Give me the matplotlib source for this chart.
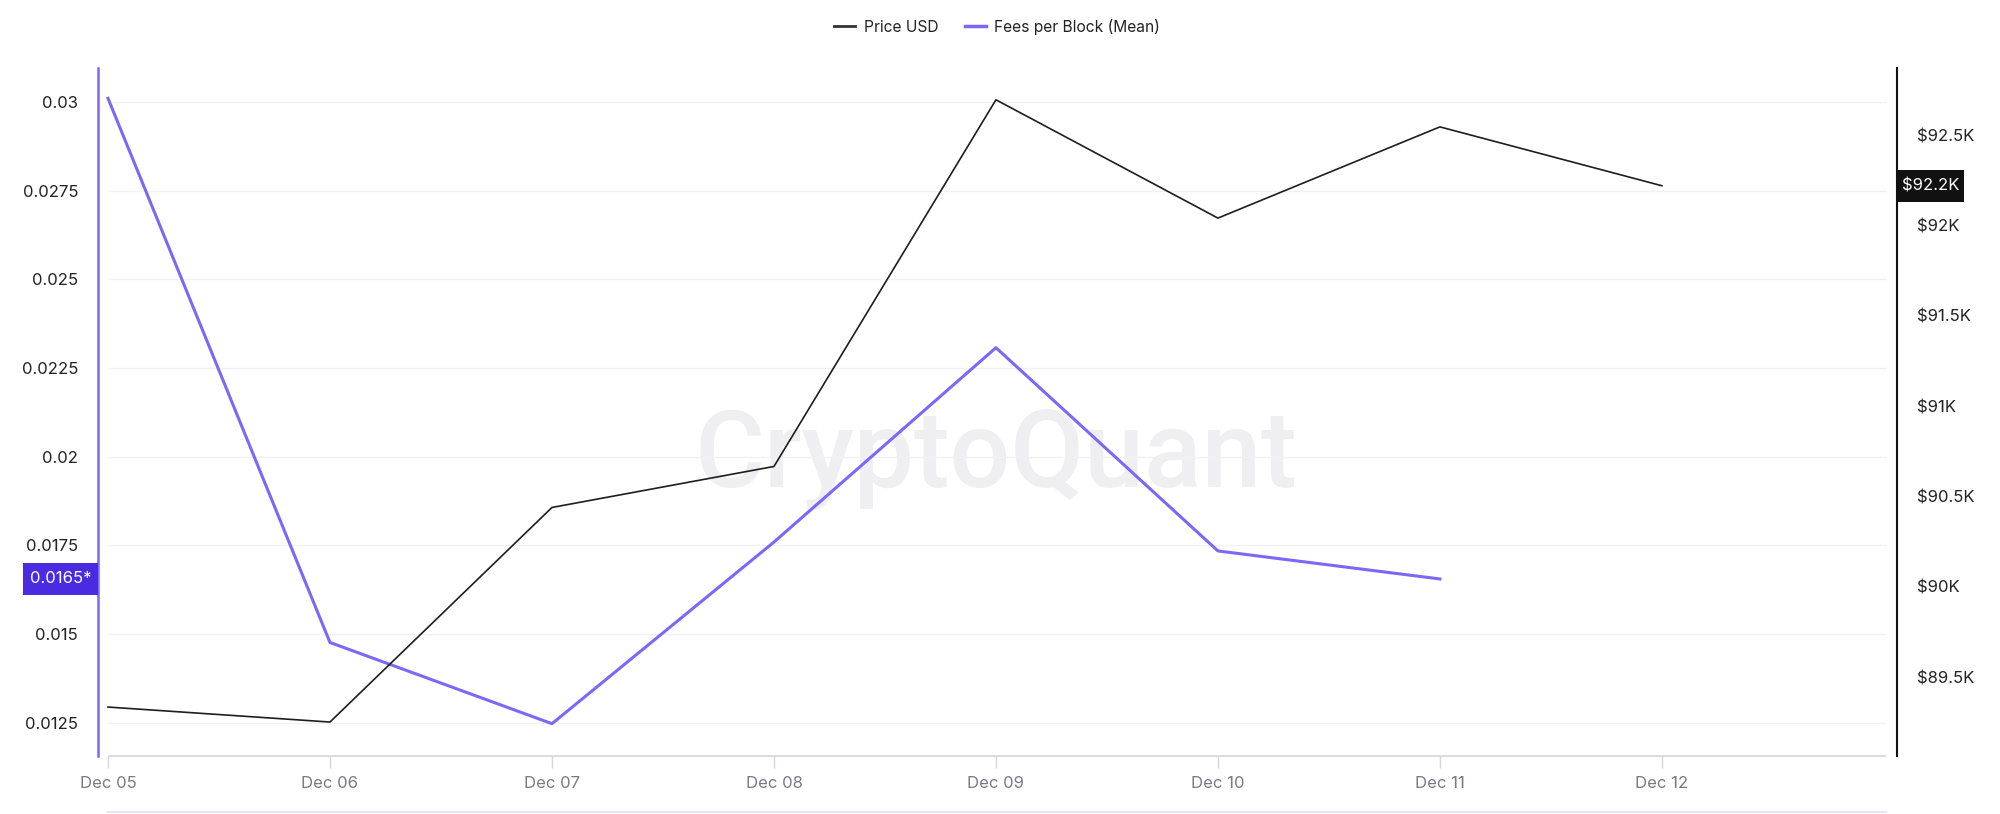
import matplotlib
matplotlib.use('Agg')
import matplotlib.pyplot as plt
from matplotlib.lines import Line2D
from matplotlib.patches import Rectangle
import numpy as np

plt.rcParams['font.family'] = ['Inter', 'DejaVu Sans']

#Chart data.
dates = ['Dec 05', 'Dec 06', 'Dec 07', 'Dec 08', 'Dec 09', 'Dec 10', 'Dec 11', 'Dec 12']
priceUsd = [89334, 89251, 90439, 90666, 92696, 92041, 92546, 92220]
feesPerBlock = [0.0301, 0.01476, 0.01247, 0.01759, 0.02307, 0.01734, 0.01655]
feeTicks = [0.0125, 0.015, 0.0175, 0.02, 0.0225, 0.025, 0.0275, 0.03]
feeTickLabels = ['0.0125', '0.015', '0.0175', '0.02', '0.0225', '0.025', '0.0275', '0.03']
priceTicks = [89500, 90000, 90500, 91000, 91500, 92000, 92500]
priceTickLabels = ['$89.5K', '$90K', '$90.5K', '$91K', '$91.5K', '$92K', '$92.5K']
feeLabel = '0.0165*'
priceLabel = '$92.2K'

purple = '#7B68F6'
boxPurple = '#4B2BE2'
gridCol = '#F1F1F4'
textCol = '#222222'

fig = plt.figure(figsize = (20, 8.14), dpi = 100)

#Price axis (right) drawn over the fees axis (left).
ax = fig.add_axes([0.049, 0.07125, 0.8995, 0.845])
ax2 = ax.twinx()
ax.set_zorder(ax2.get_zorder() + 1)
ax.patch.set_visible(False)

x = np.arange(len(dates))
xf = np.arange(len(feesPerBlock))

ax.set_xlim(-0.045, 8.059)
ax.set_ylim(89063, 92871)
ax2.set_ylim(0.011559, 0.03095)

#Watermark.
ax2.text(0.499, 0.391, 'CryptoQuant', transform = ax2.transAxes, ha = 'center', va = 'baseline',
         fontsize = 77, color = '#EFEFF2', fontweight = 'medium', family = 'Roboto', zorder = 0)

#Gridlines from the left ticks.
ax2.hlines(feeTicks, 0, 8.01, color = gridCol, linewidth = 1.0, zorder = 1)
ax2.hlines(ax2.get_ylim()[0], 0, 8.01, color = '#DCDCE6', linewidth = 1.5, zorder = 1, clip_on = False)

ax2.plot(xf, feesPerBlock, color = purple, linewidth = 2.2, zorder = 3)
ax.plot(x, priceUsd, color = '#1E1E1E', linewidth = 1.2, zorder = 3)

#Spines.
for a in (ax, ax2):
  a.spines['top'].set_visible(False)
  a.spines['bottom'].set_visible(False)
ax.spines['left'].set_visible(False)
ax2.spines['left'].set_visible(True)
ax2.spines['left'].set_color(purple)
ax2.spines['left'].set_linewidth(1.8)
ax2.spines['right'].set_visible(False)
ax.spines['right'].set_color('#111111')
ax.spines['right'].set_linewidth(1.5)

#Ticks.
ax2.yaxis.tick_left()
ax.yaxis.tick_right()
ax2.set_yticks(feeTicks)
ax2.set_yticklabels(feeTickLabels)
ax.set_yticks(priceTicks)
ax.set_yticklabels(priceTickLabels)
ax2.tick_params(axis = 'y', length = 0, pad = 14.4, labelsize = 12, labelcolor = textCol)
ax.tick_params(axis = 'y', length = 0, pad = 14.4, labelsize = 12, labelcolor = textCol)
ax.set_xticks(x)
ax.set_xticklabels(dates)
ax.tick_params(axis = 'x', length = 8.6, width = 1.0, color = '#D6D6E0', pad = 6,
               labelsize = 12, labelcolor = '#7A7A86')
ax2.tick_params(axis = 'x', length = 0)

#Last value boxes.
fy = ax2.get_yaxis_transform()
boxH = 32 * (ax2.get_ylim()[1] - ax2.get_ylim()[0]) / 688.0
ax2.add_patch(Rectangle((-75 / 1799.0, feesPerBlock[-1] - boxH / 2), 75 / 1799.0, boxH,
                        transform = fy, facecolor = boxPurple, edgecolor = 'none', clip_on = False, zorder = 5))
ax2.text(-37.5 / 1799.0, feesPerBlock[-1], feeLabel, transform = fy, ha = 'center', va = 'center',
         color = 'white', fontsize = 12, zorder = 6, clip_on = False)

py = ax.get_yaxis_transform()
boxH2 = 32 * (ax.get_ylim()[1] - ax.get_ylim()[0]) / 688.0
ax.add_patch(Rectangle((1.0, priceUsd[-1] - boxH2 / 2), 67 / 1799.0, boxH2,
                       transform = py, facecolor = '#111111', edgecolor = 'none', clip_on = False, zorder = 5))
ax.text(1.0 + 33.5 / 1799.0, priceUsd[-1], priceLabel, transform = py, ha = 'center', va = 'center',
        color = 'white', fontsize = 12, zorder = 6, clip_on = False)

#Legend.
handles = [Line2D([], [], color = '#333333', linewidth = 2.0),
           Line2D([], [], color = purple, linewidth = 2.5)]
fig.legend(handles, ['Price USD', 'Fees per Block (Mean)'], loc = 'center', ncol = 2,
           bbox_to_anchor = (0.4985, 0.967), frameon = False, fontsize = 11.2,
           handlelength = 1.35, handletextpad = 0.55, columnspacing = 1.7, labelcolor = textCol)

#Faint line at the bottom.
fig.add_artist(Line2D([108 / 2000.0, 1886 / 2000.0], [1 - 812 / 814.0] * 2, color = '#E6E6EE', linewidth = 1.5))

fig.savefig('out.png', dpi = 100, facecolor = 'white')
